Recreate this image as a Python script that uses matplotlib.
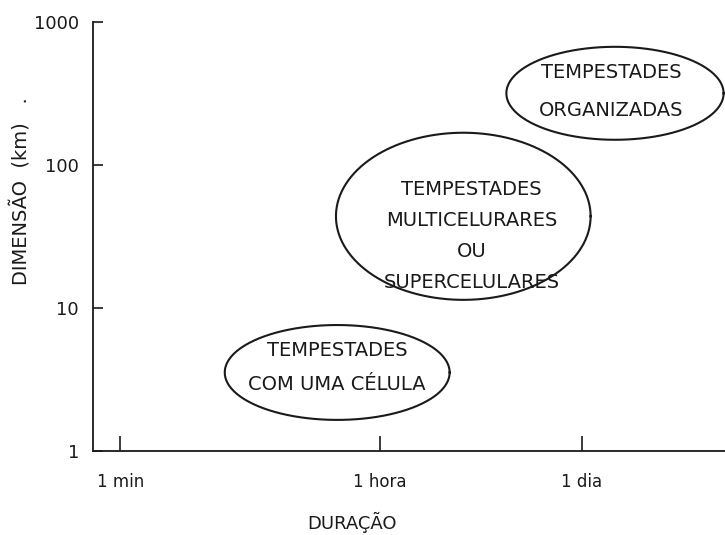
import numpy as np
import matplotlib
matplotlib.use("Agg")
import matplotlib.pyplot as plt

# Storm types: extents (duration in minutes, dimension in km)
labels = ["TEMPESTADES\nCOM UMA CÉLULA",
          "TEMPESTADES\nMULTICELURARES\nOU\nSUPERCELULARES",
          "TEMPESTADES\nORGANIZADAS"]
dur_min = [5.2, 30, 440]
dur_max = [180, 1660, 13500]
dim_min = [1.65, 11.4, 150]
dim_max = [7.6, 168, 670]

xtick_vals = [1, 60, 1440]
xtick_labels = ["1 min", "1 hora", "1 dia"]
ytick_vals = [1, 10, 100, 1000]
ytick_labels = ["1", "10", "100", "1000"]

plt.rcParams['font.family'] = ['DejaVu Sans']
fig = plt.figure(figsize=(7.25, 5.35), dpi=100)
ax = fig.add_axes([0.128, 0.157, 0.872, 0.802])
ax.set_xscale('log')
ax.set_yscale('log')
ax.set_xlim(0.65, 13800)
ax.set_ylim(1, 1000)

t = np.linspace(0, 2 * np.pi, 400)
ink = '#1a1a1a'
line_spacing = [1.95, 1.8, 2.25]
text_offset = [(0, 3.5), (6, -14), (-3, 1.5)]  # points, y up
for lab, x0, x1, y0, y1, ls, off in zip(labels, dur_min, dur_max, dim_min, dim_max,
                                        line_spacing, text_offset):
    lx0, lx1, ly0, ly1 = np.log10([x0, x1, y0, y1])
    cx, cy = (lx0 + lx1) / 2, (ly0 + ly1) / 2
    rx, ry = (lx1 - lx0) / 2, (ly1 - ly0) / 2
    ax.plot(10 ** (cx + rx * np.cos(t)), 10 ** (cy + ry * np.sin(t)),
            color=ink, lw=1.5, clip_on=False)
    ax.annotate(lab, (10 ** cx, 10 ** cy), xytext=off,
                textcoords='offset points', ha='center', va='center',
                fontsize=14, color=ink, linespacing=ls, multialignment='center')

for s in ['top', 'right']:
    ax.spines[s].set_visible(False)
for s in ['left', 'bottom']:
    ax.spines[s].set_linewidth(1.3)
    ax.spines[s].set_color(ink)

ax.set_xticks(xtick_vals)
ax.set_xticklabels(xtick_labels)
ax.set_yticks(ytick_vals)
ax.set_yticklabels(ytick_labels)
ax.minorticks_off()
ax.tick_params(axis='x', direction='in', length=11, width=1.2, pad=16,
               labelsize=12, colors=ink)
ax.tick_params(axis='y', direction='in', length=7, width=1.2, pad=10,
               labelsize=13, colors=ink)

ax.set_xlabel("DURAÇÃO", fontsize=13, color=ink)
ax.xaxis.set_label_coords(0.41, -0.143)
ax.set_ylabel("DIMENSÃO  (km)   .", fontsize=14, color=ink)
ax.yaxis.set_label_coords(-0.097, 0.606)

fig.savefig("out.png", dpi=100)
